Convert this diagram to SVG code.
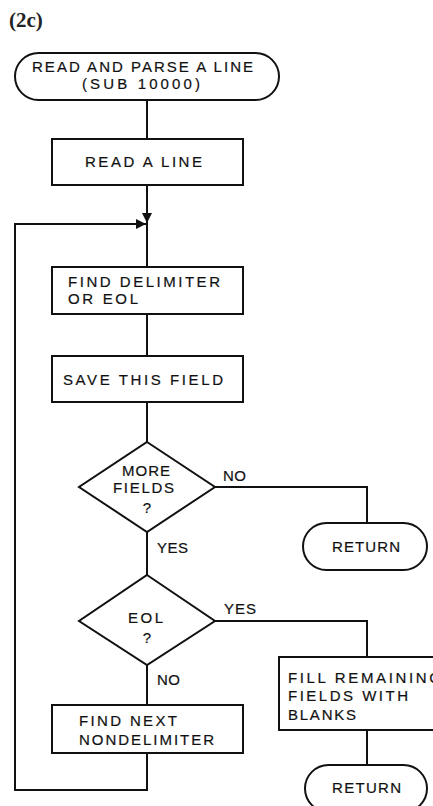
<svg xmlns="http://www.w3.org/2000/svg" width="433" height="806" viewBox="0 0 433 806">
<defs>
<style>
.s{fill:#fff;stroke:#111;stroke-width:2}
.c{fill:none;stroke:#111;stroke-width:2}
.t{font-family:"Liberation Sans","DejaVu Sans",Arial,sans-serif;font-size:15px;fill:#111;stroke:#111;stroke-width:0.2}
.m{text-anchor:middle}
.h{font-family:"Liberation Serif","DejaVu Serif",serif;font-size:21px;font-weight:bold;fill:#222}
</style>
<marker id="ah" viewBox="0 0 10 10" refX="10" refY="5" markerWidth="10" markerHeight="10" markerUnits="userSpaceOnUse" orient="auto">
<path d="M0,0 L10,5 L0,10 Z" fill="#111"/>
</marker>
</defs>
<rect width="433" height="806" fill="#fff"/>
<text class="h" x="9" y="27">(2c)</text>
<g id="connectors">
<path class="c" d="M147,100 V139"/>
<path class="c" d="M147,185 V223" marker-end="url(#ah)"/>
<path class="c" d="M147,222 V267"/>
<path class="c" d="M147,314 V356"/>
<path class="c" d="M147,402 V442"/>
<path class="c" d="M215,487 H367 V523"/>
<path class="c" d="M147,532 V575"/>
<path class="c" d="M215,621 H367 V657"/>
<path class="c" d="M147,665 V705"/>
<path class="c" d="M367,730 V765"/>
<path class="c" d="M147,753 V790 H15 V224 H146" marker-end="url(#ah)"/>
<text class="t" x="223" y="481" textLength="23" lengthAdjust="spacing">NO</text>
<text class="t" x="157" y="553" textLength="31" lengthAdjust="spacing">YES</text>
<text class="t" x="224" y="614" textLength="32" lengthAdjust="spacing">YES</text>
<text class="t" x="157" y="685" textLength="23" lengthAdjust="spacing">NO</text>
</g>
<g id="start">
<rect class="s" x="15" y="53" width="264" height="47" rx="23.5"/>
<text class="t" x="32" y="72" textLength="221" lengthAdjust="spacing">READ AND PARSE A LINE</text>
<text class="t" x="82" y="89" textLength="118" lengthAdjust="spacing">(SUB 10000)</text>
</g>
<g id="read">
<rect class="s" x="52" y="139" width="191" height="46"/>
<text class="t" x="85" y="167" textLength="117" lengthAdjust="spacing">READ A LINE</text>
</g>
<g id="find">
<rect class="s" x="52" y="267" width="191" height="47"/>
<text class="t" x="68" y="287" textLength="152" lengthAdjust="spacing">FIND DELIMITER</text>
<text class="t" x="68" y="304" textLength="70" lengthAdjust="spacing">OR EOL</text>
</g>
<g id="save">
<rect class="s" x="52" y="356" width="191" height="46"/>
<text class="t" x="63" y="385" textLength="160" lengthAdjust="spacing">SAVE THIS FIELD</text>
</g>
<g id="more">
<path class="s" d="M147,442 L215,487 L147,532 L79,487 Z"/>
<text class="t" x="122" y="476" textLength="48" lengthAdjust="spacing">MORE</text>
<text class="t" x="113" y="493" textLength="61" lengthAdjust="spacing">FIELDS</text>
<text class="t m" x="147" y="513">?</text>
</g>
<g id="return1">
<rect class="s" x="303" y="523" width="124" height="47" rx="23.5"/>
<text class="t" x="332" y="552" textLength="68" lengthAdjust="spacing">RETURN</text>
</g>
<g id="eol">
<path class="s" d="M147,575 L215,621 L147,665 L79,621 Z"/>
<text class="t" x="128" y="623" textLength="35" lengthAdjust="spacing">EOL</text>
<text class="t m" x="147" y="643">?</text>
</g>
<g id="fill">
<rect class="s" x="279" y="657" width="170" height="73"/>
<text class="t" x="288" y="683" textLength="153" lengthAdjust="spacing">FILL REMAINING</text>
<text class="t" x="288" y="701" textLength="120" lengthAdjust="spacing">FIELDS WITH</text>
<text class="t" x="288" y="720" textLength="68" lengthAdjust="spacing">BLANKS</text>
</g>
<g id="next">
<rect class="s" x="52" y="705" width="191" height="48"/>
<text class="t" x="79" y="726" textLength="98" lengthAdjust="spacing">FIND NEXT</text>
<text class="t" x="79" y="745" textLength="135" lengthAdjust="spacing">NONDELIMITER</text>
</g>
<g id="return2">
<rect class="s" x="305" y="765" width="122" height="47" rx="23.5"/>
<text class="t" x="332" y="793" textLength="69" lengthAdjust="spacing">RETURN</text>
</g>
</svg>
